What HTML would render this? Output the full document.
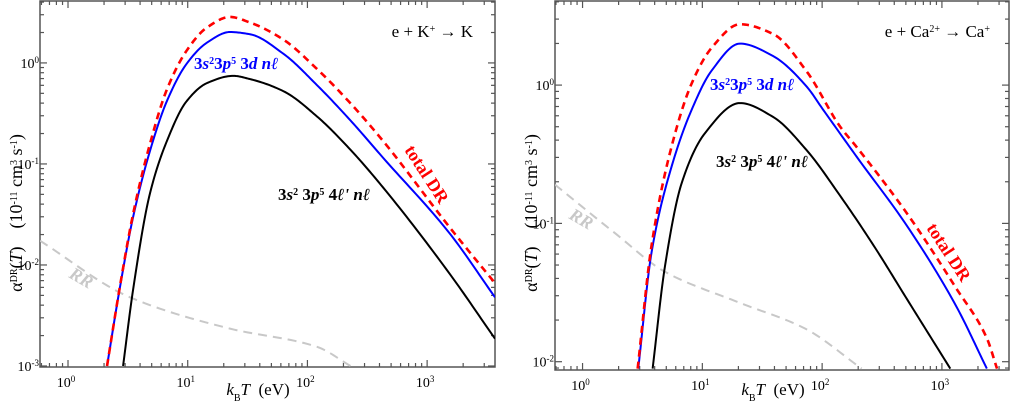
<!DOCTYPE html>
<html><head><meta charset="utf-8">
<style>
html,body{margin:0;padding:0;background:#fff;}
svg{display:block;font-family:"Liberation Serif",serif;}
text{white-space:pre;}
</style></head>
<body>
<svg id="fig" width="1010" height="403" viewBox="0 0 1010 403" xmlns="http://www.w3.org/2000/svg">
</svg>
<script>
// ---- data (log10 kT, log10 alpha) ----
const xTickExps = [0, 1, 2, 3];
// Left panel: e + K+ -> K
const leftBlueLogT  = [0.326,0.434,0.543,0.685,0.827,0.99,1.16,1.353,1.52,1.80,2.08,2.36,2.63,3.19,3.567];
const leftBlueLogA  = [-3.0,-2.22,-1.53,-0.87,-0.375,-0.01,0.20,0.306,0.284,0.09,-0.22,-0.57,-0.936,-1.69,-2.32];
const leftRedLogT   = [0.326,0.434,0.543,0.685,0.827,0.99,1.16,1.353,1.52,1.80,2.08,2.36,2.63,3.19,3.567];
const leftRedLogA   = [-3.0,-2.21,-1.50,-0.80,-0.26,0.12,0.35,0.455,0.40,0.23,-0.06,-0.40,-0.77,-1.63,-2.18];
const leftBlackLogT = [0.46,0.543,0.685,0.827,0.99,1.16,1.38,1.52,1.80,2.08,2.36,2.63,3.19,3.567];
const leftBlackLogA = [-3.0,-2.25,-1.29,-0.77,-0.38,-0.20,-0.128,-0.16,-0.28,-0.53,-0.86,-1.23,-2.09,-2.73];
const leftRRLogT    = [-0.234,0.518,1.353,2.08,2.36];
const leftRRLogA    = [-1.76,-2.32,-2.63,-2.81,-3.0];
const leftYTickExps = [0,-1,-2,-3];
// Right panel: e + Ca2+ -> Ca+
const rightBlueLogT  = [0.465,0.576,0.743,0.91,1.078,1.314,1.59,1.87,2.01,2.29,2.71,3.12,3.375];
const rightBlueLogA  = [-2.05,-1.21,-0.59,-0.18,0.105,0.30,0.21,-0.01,-0.18,-0.52,-1.02,-1.60,-2.05];
const rightRedLogT   = [0.46,0.576,0.743,0.91,1.078,1.314,1.59,1.87,2.15,2.29,2.71,3.12,3.375,3.46];
const rightRedLogA   = [-2.05,-1.16,-0.445,0.01,0.27,0.44,0.37,0.10,-0.30,-0.45,-0.93,-1.47,-1.83,-2.05];
const rightBlackLogT = [0.585,0.688,0.827,1.02,1.314,1.59,1.87,2.15,2.43,2.71,3.07];
const rightBlackLogA = [-2.05,-1.31,-0.71,-0.35,-0.13,-0.23,-0.47,-0.80,-1.16,-1.55,-2.05];
const rightRRLogT    = [-0.23,0.27,0.688,1.30,1.857,2.33];
const rightRRLogA    = [-0.72,-1.07,-1.35,-1.57,-1.76,-2.05];
const rightYTickExps = [0,-1,-2];

const NS="http://www.w3.org/2000/svg";
const svg=document.getElementById('fig');
function mk(tag,attrs,parent){const e=document.createElementNS(NS,tag);for(const k in attrs)e.setAttribute(k,attrs[k]);(parent||svg).appendChild(e);return e;}

function curvePts(xs,ys,X,Y){
  const n=xs.length,d=[],m=new Array(n);
  for(let i=0;i<n-1;i++)d.push((ys[i+1]-ys[i])/(xs[i+1]-xs[i]));
  m[0]=d[0];m[n-1]=d[n-2];
  for(let i=1;i<n-1;i++){
    if(d[i-1]*d[i]<=0)m[i]=0;
    else{const w1=2*(xs[i+1]-xs[i])+(xs[i]-xs[i-1]),w2=(xs[i+1]-xs[i])+2*(xs[i]-xs[i-1]);m[i]=(w1+w2)/(w1/d[i-1]+w2/d[i]);}
  }
  const out=[];
  for(let i=0;i<n-1;i++){
    const h=xs[i+1]-xs[i];
    for(let k=0;k<20;k++){
      const t=k/20,t2=t*t,t3=t2*t;
      const y=(2*t3-3*t2+1)*ys[i]+(t3-2*t2+t)*h*m[i]+(-2*t3+3*t2)*ys[i+1]+(t3-t2)*h*m[i+1];
      out.push([X(xs[i]+t*h),Y(y)]);
    }
  }
  out.push([X(xs[n-1]),Y(ys[n-1])]);
  return 'M'+out.map(p=>p[0].toFixed(2)+','+p[1].toFixed(2)).join('L');
}

function panel(cfg){
  const g=mk('g',{});
  
  
  const X=lx=>cfg.x0+(lx-cfg.xmin)/(cfg.xmax-cfg.xmin)*(cfg.x1-cfg.x0);
  const Y=ly=>cfg.y1-(ly-cfg.ymin)/(cfg.ymax-cfg.ymin)*(cfg.y1-cfg.y0);
  const clipId=cfg.name+'-clip';
  const cp=mk('clipPath',{id:clipId},g);
  mk('rect',{x:cfg.x0,y:cfg.y0,width:cfg.x1-cfg.x0,height:cfg.y1-cfg.y0},cp);
  const ax=mk('g',{stroke:'#555','stroke-width':1.2},g);
  
  
  for(let e=-1;e<=4;e++){
    for(let m=1;m<10;m++){
      const lx=e+Math.log10(m);
      if(lx<cfg.xmin||lx>cfg.xmax)continue;
      const L=m===1?7:4,x=X(lx);
      mk('line',{x1:x,x2:x,y1:cfg.y1,y2:cfg.y1-L},ax);
      mk('line',{x1:x,x2:x,y1:cfg.y0,y2:cfg.y0+L},ax);
    }
  }
  for(let e=-4;e<=1;e++){
    for(let m=1;m<10;m++){
      const ly=e+Math.log10(m);
      if(ly<cfg.ymin||ly>cfg.ymax)continue;
      const L=m===1?7:4,y=Y(ly);
      mk('line',{x1:cfg.x0,x2:cfg.x0+L,y1:y,y2:y},ax);
      mk('line',{x1:cfg.x1,x2:cfg.x1-L,y1:y,y2:y},ax);
    }
  }
  const fr=mk('rect',{x:cfg.x0,y:cfg.y0,width:cfg.x1-cfg.x0,height:cfg.y1-cfg.y0,fill:'none',stroke:'#555','stroke-width':1.5},g);
  
  
  xTickExps.forEach(e=>{
    const t=mk('text',{x:X(e)-2,y:cfg.y1+20,'font-size':14,'text-anchor':'middle'},g);
    
    
    t.innerHTML=`10<tspan baseline-shift="super" font-size="9">${e}</tspan>`;
  });
  cfg.yTicks.forEach(e=>{
    const t=mk('text',{x:cfg.x0-1,y:Y(e)+5,'font-size':14,'text-anchor':'end'},g);
    
    
    t.innerHTML=`10<tspan baseline-shift="super" font-size="9">${e}</tspan>`;
  });
  const dg=mk('g',{'clip-path':`url(#${clipId})`,fill:'none'},g);
  function series(lt,la,attrs,name){
    const p=mk('path',Object.assign({d:curvePts(lt,la,X,Y)},attrs),dg);
    
    
  }
  series(cfg.rr[0],cfg.rr[1],{stroke:'#c8c8c8','stroke-width':2,'stroke-dasharray':'9,6'},'rr-line');
  series(cfg.black[0],cfg.black[1],{stroke:'#000','stroke-width':2},'4l-nl-line');
  series(cfg.blue[0],cfg.blue[1],{stroke:'#0000ff','stroke-width':2},'3d-nl-line');
  series(cfg.red[0],cfg.red[1],{stroke:'#ff0000','stroke-width':2.6,'stroke-dasharray':'7,5'},'total-dr-line');
  return {g,X,Y};
}

function label(parent,x,y,html,attrs,name){
  const t=mk('text',Object.assign({x:x,y:y},attrs),parent);
  
  
  t.innerHTML=html;
  return t;
}

const L=panel({name:'left-panel',x0:40,x1:495,y0:1,y1:367,xmin:-0.234,xmax:3.567,ymin:-3.01,ymax:0.613,yTicks:leftYTickExps,
  blue:[leftBlueLogT,leftBlueLogA],red:[leftRedLogT,leftRedLogA],black:[leftBlackLogT,leftBlackLogA],rr:[leftRRLogT,leftRRLogA]});
const R=panel({name:'right-panel',x0:555,x1:1009,y0:1,y1:370,xmin:-0.23,xmax:3.56,ymin:-2.06,ymax:0.608,yTicks:rightYTickExps,
  blue:[rightBlueLogT,rightBlueLogA],red:[rightRedLogT,rightRedLogA],black:[rightBlackLogT,rightBlackLogA],rr:[rightRRLogT,rightRRLogA]});

const sup=(s)=>`<tspan baseline-shift="super" font-size="10">${s}</tspan>`;
function annotate(g,o){
  label(g,o.rx,o.ry,`e + ${o.ion}${sup(o.ionSup)} → ${o.prod}${o.prodSup?sup(o.prodSup):''}`,{'font-size':17,'text-anchor':'end'},'reaction-label');
  label(g,o.bx,o.by,`3<tspan font-style="italic">s</tspan>${sup('2')}3<tspan font-style="italic">p</tspan>${sup('5')} 3<tspan font-style="italic">d</tspan> <tspan font-style="italic">nℓ</tspan>`,{'font-size':17,'font-weight':'bold',fill:'#0000ff'},'3d-nl-label');
  label(g,o.kx,o.ky,`3<tspan font-style="italic">s</tspan>${sup('2')} 3<tspan font-style="italic">p</tspan>${sup('5')} 4<tspan font-style="italic">ℓ'</tspan> <tspan font-style="italic">nℓ</tspan>`,{'font-size':17,'font-weight':'bold',fill:'#000'},'4l-nl-label');
  label(g,0,0,'total DR',{'font-size':18,'font-weight':'bold',fill:'#ff0000',transform:`translate(${o.tx},${o.ty}) rotate(57)`},'total-dr-label');
  label(g,0,0,'RR',{'font-size':18,'font-weight':'bold','font-style':'italic',fill:'#c8c8c8',transform:`translate(${o.gx},${o.gy}) rotate(30)`},'rr-label');
  label(g,o.xl,395,`<tspan font-style="italic">k</tspan><tspan baseline-shift="sub" font-size="10">B</tspan><tspan font-style="italic">T</tspan>  (eV)`,{'font-size':17,'text-anchor':'middle'},'x-axis-title');
  label(g,0,0,`α<tspan baseline-shift="super" font-size="10">DR</tspan>(<tspan font-style="italic">T</tspan>)    (10<tspan baseline-shift="super" font-size="10">-11</tspan> cm<tspan baseline-shift="super" font-size="10">3</tspan> s<tspan baseline-shift="super" font-size="10">-1</tspan>)`,{'font-size':18,'text-anchor':'middle',transform:`translate(${o.yx},${o.yy}) rotate(-90)`},'y-axis-title');
}
annotate(L.g,{rx:473,ry:37,ion:'K',ionSup:'+',prod:'K',prodSup:'',bx:194,by:69,kx:278,ky:200,tx:404,ty:150,gx:68,gy:277,xl:258,yx:22,yy:213});
annotate(R.g,{rx:990,ry:37,ion:'Ca',ionSup:'2+',prod:'Ca',prodSup:'+',bx:710,by:90,kx:716,ky:167,tx:926,ty:228,gx:568,gy:218,xl:773,yx:537,yy:213});
</script>
</body></html>
